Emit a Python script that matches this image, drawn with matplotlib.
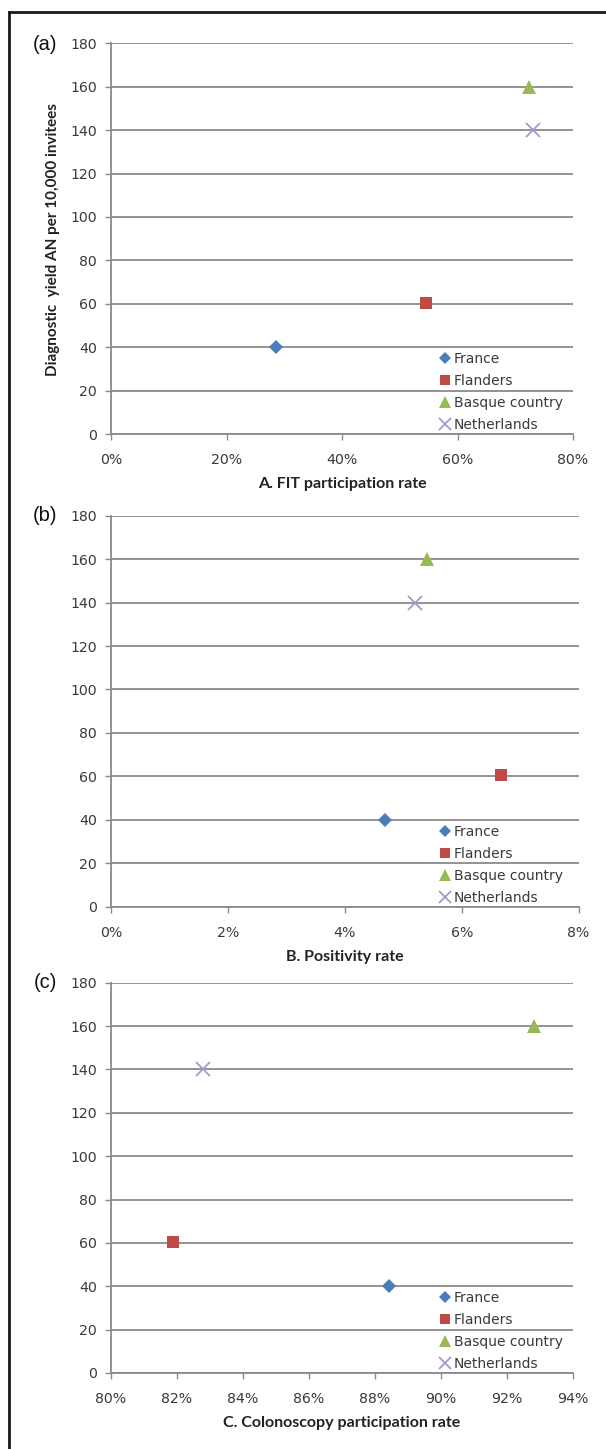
import matplotlib.pyplot as plt
from matplotlib.lines import Line2D
from matplotlib.ticker import FuncFormatter

# Datos
paises = ['France', 'Flanders', 'Basque country', 'Netherlands']
yield_an = [40, 60.5, 160, 140]
fit_participacion = [28.5, 54.5, 72.3, 73.0]
positividad = [4.68, 6.67, 5.40, 5.20]
colonoscopia = [88.42, 81.87, 92.82, 82.78]

colores = ['#4a7ebb', '#be4b48', '#98b954', '#a996cf']
marcadores = ['D', 's', '^', 'x']
tamanos = [7, 9, 9.5, 9.5]

W, H = 606, 1449
fig = plt.figure(figsize=(W / 100, H / 100), dpi=100)

GRIS = '#8a8a8a'
TEXTO = '#3a3a3a'


def px_axes(left, top, right, bottom):
    return fig.add_axes([left / W, 1 - bottom / H, (right - left) / W, (bottom - top) / H])


def panel(ax, xs, xlim, xticks, xlabel, tag, top, abajo):
    for x, y, c, m, s, lab in zip(xs, yield_an, colores, marcadores, tamanos, paises):
        kw = dict(markeredgewidth=1.3) if m == 'x' else dict(markeredgewidth=0)
        ax.plot([x], [y], linestyle='none', marker=m, color=c, markersize=s, label=lab, **kw)

    ax.set_xlim(*xlim)
    ax.set_ylim(0, 180)
    ax.set_xticks(xticks)
    ax.set_yticks(range(0, 181, 20))
    ax.xaxis.set_major_formatter(FuncFormatter(lambda v, p: f'{v:.0f}%'))
    ax.grid(True, axis='y', color=GRIS, linewidth=1.3)
    ax.set_axisbelow(True)
    for s in ['top', 'right']:
        ax.spines[s].set_visible(False)
    for s in ['left', 'bottom']:
        ax.spines[s].set_color(GRIS)
        ax.spines[s].set_linewidth(1.3)
    ax.tick_params(direction='out', length=4, width=1.0, color=GRIS,
                   labelcolor=TEXTO, labelsize=10.2)
    ax.tick_params(axis='x', pad=10)
    ax.tick_params(axis='y', pad=6)
    ax.set_xlabel(xlabel, fontfamily='Lato', fontweight='bold', fontsize=11.5,
                  color='#222222', labelpad=7)

    ax.legend(loc='lower left', bbox_to_anchor=(439 / W, 1 - abajo / H),
              bbox_transform=fig.transFigure,
              frameon=False, borderpad=0, borderaxespad=0, handlelength=0.8,
              handletextpad=0.25, labelspacing=0.57, markerscale=0.85,
              prop=dict(family='DejaVu Sans', size=10), labelcolor=TEXTO)
    fig.text(45 / W, 1 - top / H, tag, fontsize=14.5, fontfamily='Liberation Sans',
             ha='center', va='center', color='#111111')
    return ax


ax_a = px_axes(111, 43.3, 573, 434)
ax_b = px_axes(111, 515.7, 578.6, 906.7)
ax_c = px_axes(111, 982.7, 573, 1373)

panel(ax_a, fit_participacion, (0, 80), range(0, 81, 20), 'A. FIT participation rate', '(a)', 45, 432)
panel(ax_b, positividad, (0, 8), range(0, 9, 2), 'B. Positivity rate', '(b)', 516, 904.5)
panel(ax_c, colonoscopia, (80, 94), range(80, 95, 2), 'C. Colonoscopy participation rate', '(c)', 983, 1371)

fig.text(53 / W, 1 - 240 / H, 'Diagnostic  yield AN per 10,000 invitees', rotation=90,
         ha='center', va='center', fontfamily='Lato', fontweight='bold', fontsize=11,
         color='#222222')

# marco negro arriba e izquierda
fig.add_artist(Line2D([9 / W, 1], [1 - 12 / H, 1 - 12 / H], color='#1a1a1a', linewidth=2))
fig.add_artist(Line2D([9 / W, 9 / W], [1 - 12 / H, 0], color='#1a1a1a', linewidth=2))

fig.savefig('out.png', dpi=100)
